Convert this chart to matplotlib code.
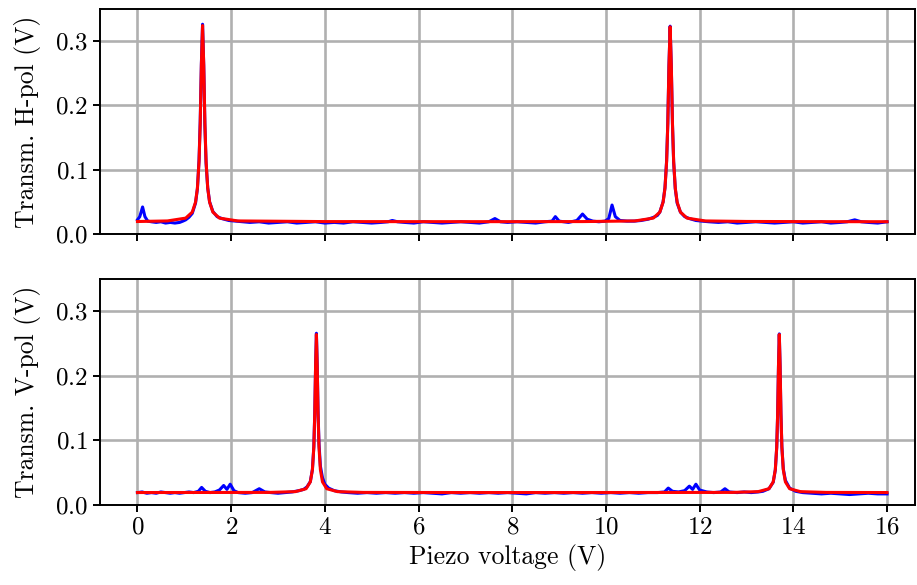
import matplotlib
matplotlib.use("Agg")
import matplotlib.pyplot as plt

plt.rcParams["font.family"] = "serif"
plt.rcParams["font.serif"] = ["cmr10"]
plt.rcParams["mathtext.fontset"] = "cm"
plt.rcParams["axes.formatter.use_mathtext"] = True
plt.rcParams["axes.unicode_minus"] = False

# H-pol measured transmission
h_x = [0.00, 0.05, 0.11, 0.16, 0.22, 0.30, 0.40, 0.50, 0.60, 0.70, 0.80, 0.90, 0.97,
       1.03, 1.10, 1.17, 1.24, 1.28, 1.315, 1.34, 1.365, 1.39, 1.415, 1.44, 1.465, 1.50,
       1.54, 1.61, 1.70, 1.80, 1.95, 2.1, 2.25, 2.4, 2.6, 2.8, 3.0, 3.2, 3.4, 3.6, 3.8,
       4.0, 4.2, 4.4, 4.6, 4.8, 5.0, 5.2, 5.35, 5.44, 5.55, 5.7, 5.9, 6.1, 6.3, 6.5,
       6.7, 6.9, 7.1, 7.3, 7.5, 7.63, 7.75, 7.9, 8.1, 8.3, 8.5, 8.7, 8.85, 8.92, 9.0,
       9.2, 9.38, 9.50, 9.60, 9.72, 9.85, 9.98, 10.06, 10.13, 10.20, 10.30, 10.45,
       10.60, 10.75, 10.90, 11.02, 11.10, 11.15, 11.22, 11.26, 11.295, 11.32, 11.345,
       11.37, 11.395, 11.42, 11.445, 11.48, 11.52, 11.59, 11.68, 11.78, 11.92, 12.05,
       12.2, 12.4, 12.6, 12.8, 13.0, 13.2, 13.4, 13.6, 13.8, 14.0, 14.2, 14.4,
       14.6, 14.8, 15.0, 15.15, 15.31, 15.45, 15.6, 15.8, 16.0]
h_y = [0.022, 0.027, 0.042, 0.027, 0.020, 0.019, 0.018, 0.019, 0.017, 0.018, 0.017, 0.018, 0.020,
       0.022, 0.026, 0.032, 0.048, 0.070, 0.115, 0.175, 0.265, 0.326, 0.262, 0.168, 0.110, 0.072,
       0.050, 0.035, 0.027, 0.024, 0.021, 0.020, 0.019, 0.018, 0.019, 0.017, 0.018, 0.019, 0.017, 0.018, 0.019,
       0.017, 0.018, 0.017, 0.019, 0.018, 0.017, 0.018, 0.019, 0.021, 0.019, 0.018, 0.017, 0.019, 0.018, 0.017,
       0.018, 0.019, 0.018, 0.017, 0.019, 0.024, 0.019, 0.018, 0.019, 0.018, 0.017, 0.019, 0.020, 0.027, 0.020,
       0.018, 0.021, 0.031, 0.023, 0.020, 0.019, 0.020, 0.024, 0.045, 0.027, 0.021, 0.020,
       0.020, 0.021, 0.023, 0.026, 0.029, 0.034, 0.050, 0.072, 0.114, 0.172, 0.262,
       0.323, 0.260, 0.170, 0.112, 0.070, 0.048, 0.034, 0.027, 0.024, 0.021, 0.020,
       0.019, 0.018, 0.019, 0.017, 0.018, 0.019, 0.018, 0.017, 0.018, 0.019, 0.017, 0.018,
       0.019, 0.017, 0.018, 0.019, 0.022, 0.019, 0.018, 0.017, 0.019]

# H-pol Lorentzian fit
hf_x = [0.0, 0.64, 1.03, 1.17, 1.24, 1.28, 1.315, 1.34, 1.365, 1.39, 1.415, 1.44, 1.465,
        1.50, 1.54, 1.61, 1.75, 2.14, 4.0, 6.0, 8.0, 9.5, 10.62, 11.01, 11.15, 11.22,
        11.26, 11.295, 11.32, 11.345, 11.37, 11.395, 11.42, 11.445, 11.48, 11.52, 11.59,
        11.73, 12.12, 13.0, 14.5, 16.0]
hf_y = [0.0194, 0.0203, 0.0247, 0.034, 0.0495, 0.0712, 0.1128, 0.1715, 0.263, 0.324, 0.263, 0.1715, 0.1128,
        0.0712, 0.0495, 0.034, 0.0247, 0.0203, 0.0193, 0.0192, 0.0192, 0.0193, 0.0203, 0.0247, 0.034, 0.0495,
        0.0712, 0.1128, 0.1715, 0.262, 0.322, 0.262, 0.1715, 0.1128, 0.0712, 0.0495, 0.034,
        0.0247, 0.0203, 0.0195, 0.0192, 0.0191]

# V-pol measured transmission
v_x = [0.00, 0.1, 0.2, 0.3, 0.4, 0.5, 0.6, 0.7, 0.8, 0.9, 1.0, 1.1, 1.2, 1.30, 1.37,
       1.45, 1.55, 1.65, 1.75, 1.84, 1.91, 1.98, 2.06, 2.15, 2.3, 2.45, 2.60, 2.72,
       2.85, 3.0, 3.15, 3.3, 3.45, 3.55, 3.62, 3.69, 3.735, 3.765, 3.785, 3.8025, 3.82,
       3.8375, 3.855, 3.875, 3.905, 3.95, 4.00, 4.08, 4.2, 4.35, 4.5, 4.7, 4.9, 5.1, 5.3,
       5.5, 5.7, 5.9, 6.1, 6.3, 6.5, 6.7, 6.9, 7.1, 7.3, 7.5, 7.7, 7.9, 8.1, 8.3, 8.5,
       8.7, 8.9, 9.1, 9.3, 9.5, 9.7, 9.9, 10.1, 10.3, 10.5, 10.7, 10.9, 11.1, 11.25,
       11.33, 11.42, 11.55, 11.68, 11.78, 11.85, 11.92, 12.0, 12.15, 12.3, 12.45, 12.54,
       12.63, 12.8, 12.95, 13.1, 13.25, 13.35, 13.48, 13.57, 13.615, 13.645, 13.665,
       13.6825, 13.70, 13.7175, 13.735, 13.755, 13.785, 13.83, 13.92, 14.05, 14.2, 14.4,
       14.6, 14.8, 15.0, 15.2, 15.4, 15.6, 15.8, 16.0]
v_y = [0.019, 0.020, 0.018, 0.019, 0.018, 0.020, 0.019, 0.018, 0.019, 0.018, 0.019, 0.020, 0.019, 0.021, 0.027,
       0.021, 0.019, 0.020, 0.023, 0.030, 0.024, 0.032, 0.022, 0.019, 0.018, 0.019, 0.025, 0.020,
       0.019, 0.018, 0.019, 0.020, 0.022, 0.024, 0.028, 0.036, 0.055, 0.090, 0.142, 0.215, 0.266,
       0.215, 0.145, 0.095, 0.060, 0.042, 0.032, 0.026, 0.022, 0.020, 0.019, 0.018, 0.019, 0.018, 0.019,
       0.018, 0.019, 0.018, 0.019, 0.018, 0.017, 0.019, 0.018, 0.019, 0.018, 0.019, 0.018, 0.019, 0.018, 0.017, 0.019,
       0.018, 0.019, 0.018, 0.019, 0.018, 0.019, 0.018, 0.019, 0.018, 0.019, 0.018, 0.019, 0.019, 0.020,
       0.026, 0.021, 0.020, 0.022, 0.029, 0.024, 0.032, 0.023, 0.020, 0.019, 0.020, 0.025,
       0.020, 0.019, 0.020, 0.019, 0.020, 0.021, 0.025, 0.035, 0.054, 0.089, 0.141,
       0.214, 0.265, 0.213, 0.140, 0.090, 0.056, 0.038, 0.026, 0.021, 0.019, 0.018,
       0.017, 0.018, 0.017, 0.016, 0.017, 0.018, 0.017, 0.017]

# V-pol Lorentzian fit
vf_x = [0.0, 1.5, 2.82, 3.37, 3.60, 3.69, 3.735, 3.765, 3.785, 3.8025, 3.82, 3.8375, 3.855,
        3.875, 3.905, 3.95, 4.04, 4.27, 4.82, 7.0, 9.0, 11.0, 12.70, 13.25, 13.48, 13.57,
        13.615, 13.645, 13.665, 13.6825, 13.70, 13.7175, 13.735, 13.755, 13.785, 13.83, 13.92,
        14.15, 14.70, 16.0]
vf_y = [0.0191, 0.0192, 0.0193, 0.0205, 0.0250, 0.0356, 0.0545, 0.0896, 0.1415, 0.215, 0.264, 0.215, 0.1415,
        0.0896, 0.0545, 0.0356, 0.0250, 0.0205, 0.0193, 0.0191, 0.0191, 0.0192, 0.0193, 0.0205, 0.0250, 0.0356,
        0.0545, 0.0896, 0.1415, 0.215, 0.264, 0.215, 0.1415, 0.0896, 0.0545, 0.0356, 0.0250,
        0.0205, 0.0193, 0.0191]

fig = plt.figure(figsize=(9.17, 5.85), dpi=100)
ax1 = fig.add_axes([0.109, 0.600, 0.889, 0.385])
ax2 = fig.add_axes([0.109, 0.137, 0.889, 0.386], sharex=ax1)

for ax, bx, by, fx, fy, lab in [(ax1, h_x, h_y, hf_x, hf_y, "Transm. H-pol (V)"),
                                (ax2, v_x, v_y, vf_x, vf_y, "Transm. V-pol (V)")]:
    ax.plot(bx, by, color="blue", lw=2.2)
    ax.plot(fx, fy, color="red", lw=2.2)
    ax.set_ylim(0, 0.35)
    ax.set_yticks([0.0, 0.1, 0.2, 0.3])
    ax.set_ylabel(lab, fontsize=18.5, labelpad=10)
    ax.grid(True, color="#b0b0b0", lw=1.9)
    ax.set_axisbelow(True)
    ax.tick_params(labelsize=18, length=5, width=1.4)
    for s in ax.spines.values():
        s.set_linewidth(1.4)

ax1.set_xlim(-0.8, 16.6)
ax1.set_xticks(range(0, 17, 2))
ax1.tick_params(labelbottom=False)
ax2.set_xlabel("Piezo voltage (V)", fontsize=18.5)

fig.savefig("out.png", dpi=100)
